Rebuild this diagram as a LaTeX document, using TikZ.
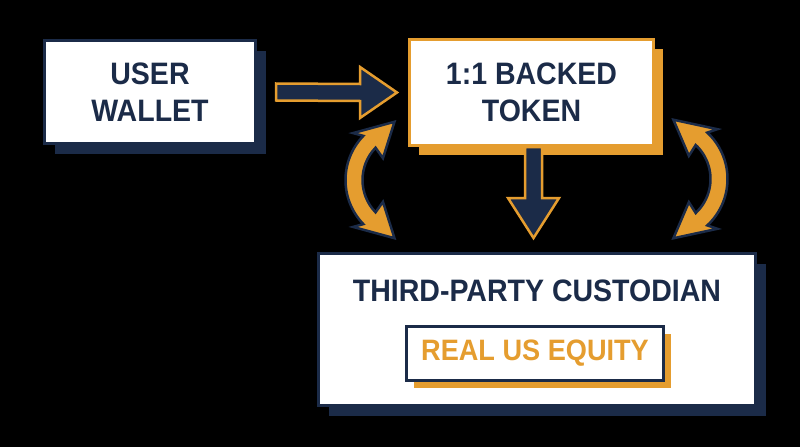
\documentclass[tikz,border=0pt]{standalone}
\usepackage{fontspec}
\setmainfont{Liberation Sans}[FakeStretch=0.92]
\usetikzlibrary{calc,shadows}
\definecolor{navy}{HTML}{1B2B48}
\definecolor{gold}{HTML}{E59D2F}
\tikzset{
  card/.style={draw=navy, line width=3pt, fill=white, inner sep=0pt},
  navyshadow/.style={drop shadow={shadow xshift=10pt, shadow yshift=-10pt, fill=navy, opacity=1}},
  goldshadow/.style={drop shadow={shadow xshift=#1, shadow yshift=-#1, fill=gold, opacity=1}},
  cardtext/.style={font=\bfseries\fontsize{31}{37}\selectfont, text=navy, align=center},
  flatarrow/.style={fill=navy, draw=gold, line width=2.5pt, line join=miter},
  swaparrow/.style={fill=gold, draw=navy, line width=2.5pt, line join=miter},
}
% curved two-way arrow: centre, start angle, end angle, tip offset
\newcommand{\swaparc}[4]{%
  \begin{scope}[shift={#1}, yscale=-1]
    \filldraw[swaparrow] (#2:63.5) arc[start angle=#2, end angle=#3, radius=63.5]
      -- (#3-4:73) -- (#3+#4:60) -- (#3-4:34) -- (#3:46.5)
      arc[start angle=#3, end angle=#2, radius=46.5]
      -- (#2+4:34) -- (#2-#4:60) -- (#2+4:73) -- cycle;
  \end{scope}}
\begin{document}
\begin{tikzpicture}[x=1pt, y=-1pt]
    \fill[black] (0,0) rectangle (800,447);
    % cards
    \node[card, navyshadow, cardtext, minimum width=211pt, minimum height=103pt] (wallet) at (150,92) {USER\\WALLET};
    \node[card, draw=gold, goldshadow=9pt, cardtext, minimum width=244pt, minimum height=106pt] (token) at (531.5,92.5) {1:1 BACKED\\TOKEN};
    \node[card, navyshadow, minimum width=437pt, minimum height=152pt] (custodian) at (537,329.5) {};
    \node[cardtext, inner sep=0pt] (custtitle) at (537,291) {THIRD-PARTY CUSTODIAN};
    \node[card, goldshadow=7pt, minimum width=257pt, minimum height=54pt,
          font=\bfseries\fontsize{29.5}{35}\selectfont, text=gold] (equity) at (535,353.5) {REAL US EQUITY};
    % straight arrows
    \coordinate (r0) at ($(wallet.east)+(19,0)$);
    \coordinate (r1) at ($(token.west)+(-11,0)$);
    \filldraw[flatarrow] ($(r0)+(0,-8.5)$) -- ($(r1)+(-37,-8.5)$) -- ($(r1)+(-37,-25.5)$) -- (r1)
        -- ($(r1)+(-37,25.5)$) -- ($(r1)+(-37,8.5)$) -- ($(r0)+(0,8.5)$) -- cycle;
    \coordinate (d0) at ($(token.south)+(2,0)$);
    \coordinate (d1) at ($(d0 |- custodian.north)+(0,-14)$);
    \filldraw[flatarrow] ($(d0)+(-8.5,0)$) -- ($(d1)+(-8.5,-40)$) -- ($(d1)+(-25.5,-40)$) -- (d1)
        -- ($(d1)+(25.5,-40)$) -- ($(d1)+(8.5,-40)$) -- ($(d0)+(8.5,0)$) -- cycle;
    % curved arrows
    \swaparc{(409,180)}{136}{224}{32}
    \swaparc{(664,179)}{-47}{47}{34}
\end{tikzpicture}
\end{document}
